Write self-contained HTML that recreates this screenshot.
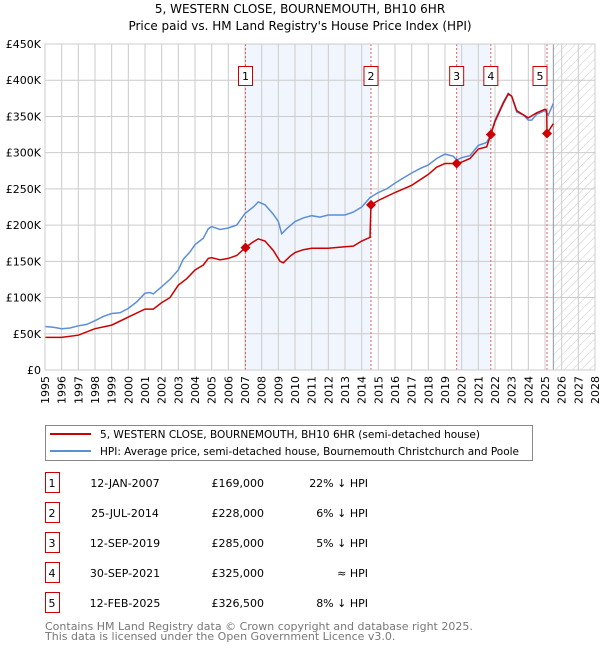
<!DOCTYPE html>
<html><head><meta charset="utf-8"><style>
body{margin:0;background:#fff;font-family:"DejaVu Sans","Liberation Sans",sans-serif;}
#wrap{position:relative;width:600px;height:650px;overflow:hidden;}
</style></head><body><div id="wrap">
<svg id="svg" width="600" height="650" xmlns="http://www.w3.org/2000/svg" font-family="DejaVu Sans, Liberation Sans, sans-serif">
<defs><pattern id="hatch" width="6" height="6" patternUnits="userSpaceOnUse" patternTransform="rotate(45)"><rect width="6" height="6" fill="#fff"/><line x1="0" y1="0" x2="0" y2="6" stroke="#ccc" stroke-width="1"/></pattern></defs>
<text x="300" y="13" text-anchor="middle" font-size="12">5, WESTERN CLOSE, BOURNEMOUTH, BH10 6HR</text>
<text x="300" y="30" text-anchor="middle" font-size="12">Price paid vs. HM Land Registry's House Price Index (HPI)</text>
<g id="plot"></g>
<g>
<rect x="45.5" y="425.5" width="487" height="35" fill="#fff" stroke="#888"/>
<line x1="50" y1="434" x2="91" y2="434" stroke="#cc0000" stroke-width="2"/>
<text x="100" y="438" font-size="10.5" textLength="380" lengthAdjust="spacingAndGlyphs">5, WESTERN CLOSE, BOURNEMOUTH, BH10 6HR (semi-detached house)</text>
<line x1="50" y1="451" x2="91" y2="451" stroke="#5b8fd6" stroke-width="2"/>
<text x="100" y="455" font-size="10.5" textLength="419" lengthAdjust="spacingAndGlyphs">HPI: Average price, semi-detached house, Bournemouth Christchurch and Poole</text>
</g>
<g id="table" font-size="11"></g>
<text x="45" y="630" font-size="11" fill="#777">Contains HM Land Registry data © Crown copyright and database right 2025.</text>
<text x="45" y="640" font-size="11" fill="#777">This data is licensed under the Open Government Licence v3.0.</text>
</svg></div>
<script>
const hpiYears=[1995,1995.5,1996,1996.5,1997,1997.5,1998,1998.5,1999,1999.5,2000,2000.5,2001,2001.3,2001.5,2002,2002.5,2003,2003.3,2003.7,2004,2004.5,2004.8,2005,2005.5,2006,2006.5,2007,2007.5,2007.8,2008.2,2008.7,2009,2009.2,2009.5,2010,2010.5,2011,2011.5,2012,2012.5,2013,2013.5,2014,2014.5,2015,2015.5,2016,2016.5,2017,2017.5,2018,2018.5,2019,2019.5,2019.7,2020,2020.5,2021,2021.5,2021.75,2022,2022.5,2022.8,2023,2023.3,2023.7,2024,2024.2,2024.5,2025,2025.2,2025.5];
const hpiValues=[60,59,57,58,61,63,68,74,78,79,85,94,106,107,105,115,125,138,153,163,173,182,195,198,194,196,200,216,225,232,228,215,205,188,195,205,210,213,211,214,214,214,218,225,238,245,250,258,265,272,278,283,292,298,295,290,293,296,310,314,325,345,370,382,378,356,352,345,345,353,358,352,368];
const ppYears=[1995,1996,1997,1998,1999,2000,2001,2001.5,2002,2002.5,2003,2003.5,2004,2004.5,2004.8,2005,2005.5,2006,2006.5,2007.03,2007.5,2007.8,2008.2,2008.7,2009.1,2009.3,2009.7,2010,2010.5,2011,2012,2013,2013.5,2014,2014.5,2014.56,2015,2016,2017,2018,2018.5,2019,2019.7,2020,2020.5,2021,2021.5,2021.75,2022,2022.5,2022.8,2023,2023.3,2024,2024.5,2025,2025.1,2025.12,2025.5];
const ppValues=[45,45,48,57,62,73,84,84,93,100,117,126,138,145,154,155,152,154,158,169,177,181,178,165,150,148,157,162,166,168,168,170,171,178,183,228,234,245,255,270,280,285,285,287,292,305,308,325,343,368,381,378,358,348,355,360,358,326.5,340];
const saleYears=[2007.03,2014.56,2019.70,2021.75,2025.12];
const saleValues=[169,228,285,325,326.5];
const saleLabels=["1","2","3","4","5"];
const saleDates=["12-JAN-2007","25-JUL-2014","12-SEP-2019","30-SEP-2021","12-FEB-2025"];
const salePrices=["£169,000","£228,000","£285,000","£325,000","£326,500"];
const saleDiffs=["22% ↓ HPI","6% ↓ HPI","5% ↓ HPI","≈ HPI","8% ↓ HPI"];
const yTicks=[0,50,100,150,200,250,300,350,400,450];
const yTickLabels=["£0","£50K","£100K","£150K","£200K","£250K","£300K","£350K","£400K","£450K"];
const xTicks=[];for(let y=1995;y<=2028;y++)xTicks.push(y);

const X0=45,X1=595,Y0=370,Y1=44;
const xs=v=>X0+(v-1995)/(2028-1995)*(X1-X0);
const ys=v=>Y0-v/450*(Y0-Y1);
const NS="http://www.w3.org/2000/svg";
function mk(tag,attrs,parent){const e=document.createElementNS(NS,tag);for(const k in attrs)e.setAttribute(k,attrs[k]);parent.appendChild(e);return e;}
const plot=document.getElementById('plot');
[[0,1],[2,3]].forEach(([a,b],i)=>{const r=mk('rect',{x:xs(saleYears[a]),y:Y1,width:xs(saleYears[b])-xs(saleYears[a]),height:Y0-Y1,fill:'#eef2fc',opacity:0.8},plot);

});
const hs=mk('rect',{x:xs(2025.5),y:Y1,width:X1-xs(2025.5),height:Y0-Y1,fill:'url(#hatch)'},plot);


xTicks.forEach(t=>{const l=mk('line',{x1:xs(t),x2:xs(t),y1:Y1,y2:Y0,stroke:'#ccc','stroke-width':1},plot);


const tx=mk('text',{x:0,y:0,transform:`translate(${xs(t)+4},${Y0+6}) rotate(-90)`,'text-anchor':'end','font-size':11},plot);tx.textContent=t;

});
yTicks.forEach((t,i)=>{const l=mk('line',{x1:X0,x2:X1,y1:ys(t),y2:ys(t),stroke:'#ccc','stroke-width':1},plot);


const tx=mk('text',{x:X0-4,y:ys(t)+4,'text-anchor':'end','font-size':11},plot);tx.textContent=yTickLabels[i];

});
const nl=mk('line',{x1:xs(2025.5),x2:xs(2025.5),y1:Y1,y2:Y0,stroke:'#8899aa','stroke-width':1},plot);


saleYears.forEach((s,i)=>{const l=mk('line',{x1:xs(s),x2:xs(s),y1:Y1,y2:Y0,stroke:'#e06060','stroke-width':1,'stroke-dasharray':'2,2'},plot);


const bx=xs(s)-7-(i==4?7:0);
const r=mk('rect',{x:bx,y:66.5,width:14,height:19,fill:'#fff',stroke:'#cc0000'},plot);


const t=mk('text',{x:bx+7,y:80,'text-anchor':'middle','font-size':11},plot);t.textContent=saleLabels[i];

});
const path=(xa,va)=>xa.map((x,i)=>(i?'L':'M')+xs(x).toFixed(1)+','+ys(va[i]).toFixed(1)).join('');
const hp=mk('path',{d:path(hpiYears,hpiValues),fill:'none',stroke:'#5b8fd6','stroke-width':1.5},plot);


const pp=mk('path',{d:path(ppYears,ppValues),fill:'none',stroke:'#cc0000','stroke-width':1.5},plot);


saleYears.forEach((s,i)=>{const cx=xs(s),cy=ys(saleValues[i]);
const d=mk('path',{d:`M${cx},${cy-5}L${cx+5},${cy}L${cx},${cy+5}L${cx-5},${cy}Z`,fill:'#cc0000'},plot);

});
const fr=mk('rect',{x:X0,y:Y1,width:X1-X0,height:Y0-Y1,fill:'none',stroke:'#ccc'},plot);


const tb=document.getElementById('table');
saleLabels.forEach((lab,i)=>{const cy=483+i*30;
const r=mk('rect',{x:45.5,y:cy-10.5,width:14,height:20,fill:'#fff',stroke:'#cc0000'},tb);


const cells=[[52,lab,'middle'],[125,saleDates[i],'middle'],[264,salePrices[i],'end'],[368,saleDiffs[i],'end']];
cells.forEach(([x,txt,a],j)=>{const t=mk('text',{x:x,y:cy+4,'text-anchor':a},tb);
t.textContent=txt;

});});
</script></body></html>
